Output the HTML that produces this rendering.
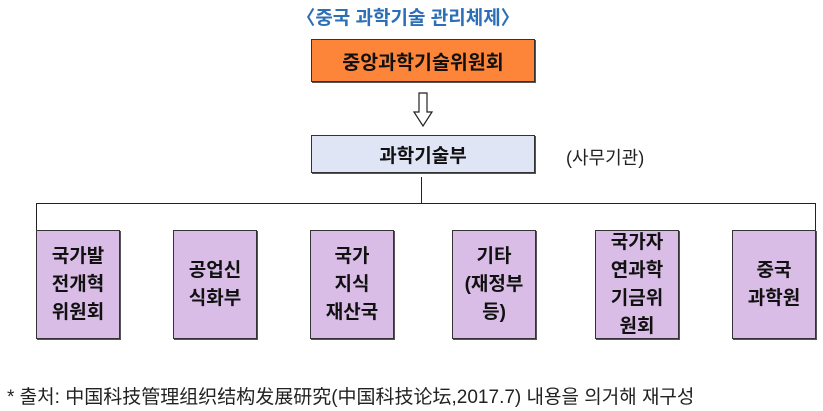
<!DOCTYPE html>
<html><head><meta charset="utf-8"><style>
body{margin:0;width:823px;height:411px;background:#fff;position:relative;overflow:hidden;font-family:"Liberation Sans","Noto Sans CJK KR",sans-serif;}
.a{position:absolute;box-sizing:border-box;}
.box{border:1px solid #333;box-shadow:1px 1px 0 #555;display:flex;align-items:center;justify-content:center;text-align:center;font-weight:bold;color:#111;}
.p{background:#d9bde6;top:230px;height:109px;width:84px;font-size:19px;line-height:28px;}
.l{background:#222;}
</style></head><body>
<div class="a" style="left:290px;top:3px;width:236px;text-align:center;color:#2c6fb6;font-weight:bold;font-size:19px;">〈중국 과학기술 관리체제〉</div>
<div class="a box" style="left:311px;top:39px;width:224px;height:43px;background:#fd853a;font-size:19.5px;">중앙과학기술위원회</div>
<svg class="a" style="left:412px;top:92px" width="22" height="36"><path d="M7 1H15V20H20L11 34L2 20H7Z" fill="#fff" stroke="#222" stroke-width="1.2"/></svg>
<div class="a box" style="left:311px;top:135px;width:224px;height:38px;background:#dfe5f5;font-size:19px;">과학기술부</div>
<div class="a" style="left:566px;top:144px;font-size:18px;color:#222;">(사무기관)</div>
<div class="a l" style="left:421px;top:177px;width:1px;height:26px;"></div>
<div class="a l" style="left:36px;top:203px;width:780px;height:1px;"></div>
<div class="a l" style="left:36px;top:203px;width:1px;height:27px;"></div>
<div class="a l" style="left:815px;top:203px;width:1px;height:27px;"></div>
<div class="a box p" style="left:36px;">국가발<br>전개혁<br>위원회</div>
<div class="a box p" style="left:173px;">공업신<br>식화부</div>
<div class="a box p" style="left:310px;">국가<br>지식<br>재산국</div>
<div class="a box p" style="left:452px;">기타<br>(재정부<br>등)</div>
<div class="a box p" style="left:595px;">국가자<br>연과학<br>기금위<br>원회</div>
<div class="a box p" style="left:732px;">중국<br>과학원</div>
<div class="a" style="left:7px;top:382px;font-size:19px;color:#222;white-space:nowrap;">* 출처: 中国科技管理组织结构发展研究(中国科技论坛,2017.7) 내용을 의거해 재구성</div>
</body></html>
